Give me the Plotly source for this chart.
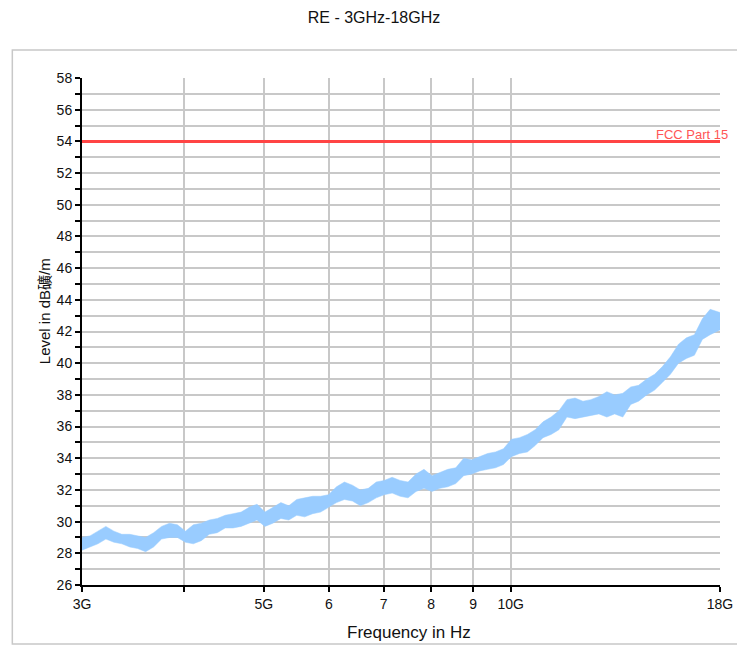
"""
RE - 3GHz-18GHz radiated emission scan
"""

import plotly.graph_objects as go

# scan frequencies (GHz) and the upper / lower edge of the noisy trace (dBuV/m)
FREQ_GHZ = [
    3.000, 3.068, 3.137, 3.208, 3.281, 3.355, 3.431, 3.508, 3.587, 3.668,
    3.751, 3.836, 3.922, 4.011, 4.101, 4.194, 4.289, 4.386, 4.485, 4.586,
    4.690, 4.796, 4.904, 5.015, 5.128, 5.244, 5.362, 5.483, 5.607, 5.734,
    5.863, 5.995, 6.131, 6.269, 6.411, 6.555, 6.703, 6.855, 7.010, 7.168,
    7.330, 7.495, 7.665, 7.838, 8.015, 8.196, 8.381, 8.570, 8.764, 8.962,
    9.164, 9.371, 9.583, 9.799, 10.02, 10.25, 10.48, 10.71, 10.95, 11.20,
    11.45, 11.71, 11.98, 12.25, 12.52, 12.81, 13.10, 13.39, 13.70, 14.01,
    14.32, 14.65, 14.98, 15.32, 15.66, 16.02, 16.38, 16.75, 17.13, 17.51,
    18.00,
]
LEVEL_HI = [
    29.0, 29.1, 29.4, 29.7, 29.4, 29.2, 29.2, 29.1, 29.0, 29.3,
    29.7, 29.9, 29.8, 29.4, 29.8, 29.9, 30.1, 30.2, 30.4, 30.5,
    30.6, 30.9, 31.1, 30.6, 30.9, 31.2, 31.0, 31.4, 31.5, 31.6,
    31.6, 31.7, 32.2, 32.5, 32.3, 32.0, 32.1, 32.5, 32.6, 32.8,
    32.6, 32.5, 33.0, 33.3, 32.9, 33.1, 33.3, 33.4, 34.0, 33.9,
    34.1, 34.3, 34.4, 34.6, 35.2, 35.3, 35.5, 35.8, 36.3, 36.6,
    37.0, 37.7, 37.8, 37.6, 37.7, 37.9, 38.2, 38.0, 38.1, 38.5,
    38.6, 39.0, 39.3, 39.8, 40.4, 41.2, 41.6, 41.8, 42.8, 43.4,
    43.2,
]
LEVEL_LO = [
    28.2, 28.4, 28.6, 28.9, 28.7, 28.6, 28.4, 28.3, 28.1, 28.4,
    28.9, 29.0, 29.0, 28.7, 28.6, 28.8, 29.2, 29.3, 29.6, 29.6,
    29.7, 29.9, 30.1, 29.7, 29.9, 30.2, 30.1, 30.4, 30.3, 30.5,
    30.6, 30.9, 31.2, 31.4, 31.3, 31.0, 31.2, 31.5, 31.7, 31.8,
    31.6, 31.5, 31.9, 32.1, 31.9, 32.1, 32.2, 32.4, 32.9, 33.0,
    33.2, 33.3, 33.4, 33.6, 34.1, 34.3, 34.4, 34.8, 35.3, 35.5,
    35.8, 36.6, 36.5, 36.6, 36.7, 36.8, 36.6, 36.8, 36.6, 37.4,
    37.6, 38.0, 38.3, 38.8, 39.3, 40.0, 40.3, 40.5, 41.5, 41.8,
    42.1,
]

LIMIT_DB = 54
LIMIT_NAME = "FCC Part 15"

X_TICKS_GHZ = [3, 4, 5, 6, 7, 8, 9, 10, 18]
X_TICK_TEXT = ["3G", "", "5G", "6", "7", "8", "9", "10G", "18G"]
Y_TICKS = list(range(26, 59))
Y_TICK_TEXT = [str(v) if v % 2 == 0 else "" for v in Y_TICKS]

FONT = "Liberation Sans, Arial, Noto Sans CJK SC, sans-serif"
GRID_CLR = "#c8c8c8"
TRACE_CLR = "#99ccff"
LIMIT_CLR = "#ff4444"

# plot area is 641 x 507 px; the page body adds an 8px offset
PW, PH = 641, 507


def main():
    freq_hz = [f * 1e9 for f in FREQ_GHZ]
    fig = go.Figure()

    # noisy trace drawn as a closed band between its edges
    fig.add_trace(
        go.Scatter(
            x=freq_hz + freq_hz[::-1],
            y=LEVEL_HI + LEVEL_LO[::-1],
            fill="toself",
            fillcolor=TRACE_CLR,
            line=dict(color=TRACE_CLR, width=0.5),
            mode="lines",
            hoverinfo="skip",
            showlegend=False,
        )
    )
    fig.add_trace(
        go.Scatter(
            x=[freq_hz[0], freq_hz[-1]],
            y=[LIMIT_DB, LIMIT_DB],
            mode="lines",
            line=dict(color=LIMIT_CLR, width=3),
            name=LIMIT_NAME,
            showlegend=False,
        )
    )

    fig.add_annotation(
        x=1, y=LIMIT_DB, xref="paper", yref="y",
        text=LIMIT_NAME, showarrow=False,
        xanchor="right", yanchor="bottom", xshift=10, yshift=-3,
        font=dict(size=13, color="#ff5555", family=FONT),
    )
    fig.add_annotation(
        x=(411 - 82) / PW, y=(585 - 632) / PH, xref="paper", yref="paper",
        xanchor="center", yanchor="middle",
        text="Frequency in Hz", showarrow=False,
        font=dict(size=17, color="#111111", family=FONT),
    )
    fig.add_annotation(
        x=(44 - 82) / PW, y=(585 - 311) / PH, xref="paper", yref="paper",
        xanchor="center", yanchor="middle",
        text="Level in dB礦/m", textangle=-90, showarrow=False,
        font=dict(size=15, color="#111111", family=FONT),
    )

    # grey outer frame
    fig.add_shape(
        type="rect", xref="paper", yref="paper",
        x0=(12 - 82) / PW, x1=(742 - 82) / PW,
        y0=(585 - 644) / PH, y1=(585 - 50) / PH,
        line=dict(color="#c8c8c8", width=1.5),
    )

    fig.update_layout(
        width=737,
        height=638,
        margin=dict(l=74, r=22, t=70, b=61),
        paper_bgcolor="white",
        plot_bgcolor="white",
        font=dict(family=FONT, size=14, color="#111111"),
        title=dict(
            text="RE - 3GHz-18GHz",
            x=(374 - 8) / 737, xref="container", xanchor="center",
            y=1 - 9 / 638, yref="container", yanchor="middle",
            font=dict(size=16, color="#111111", family=FONT),
        ),
        xaxis=dict(
            type="log",
            range=[9 + 0.47712, 9 + 1.25527],
            tickvals=[t * 1e9 for t in X_TICKS_GHZ],
            ticktext=X_TICK_TEXT,
            showgrid=True, gridcolor=GRID_CLR, gridwidth=2,
            showline=True, linecolor="black", linewidth=2,
            ticks="outside", ticklen=5, tickwidth=2, tickcolor="black",
            tickfont=dict(size=14),
            zeroline=False,
        ),
        yaxis=dict(
            range=[26, 58],
            tickvals=Y_TICKS,
            ticktext=Y_TICK_TEXT,
            showgrid=True, gridcolor=GRID_CLR, gridwidth=2,
            showline=True, linecolor="black", linewidth=2,
            ticks="outside", ticklen=5, tickwidth=2, tickcolor="black",
            tickfont=dict(size=14),
            zeroline=False,
        ),
    )

    fig.write_html("out.html")


if __name__ == "__main__":
    main()
